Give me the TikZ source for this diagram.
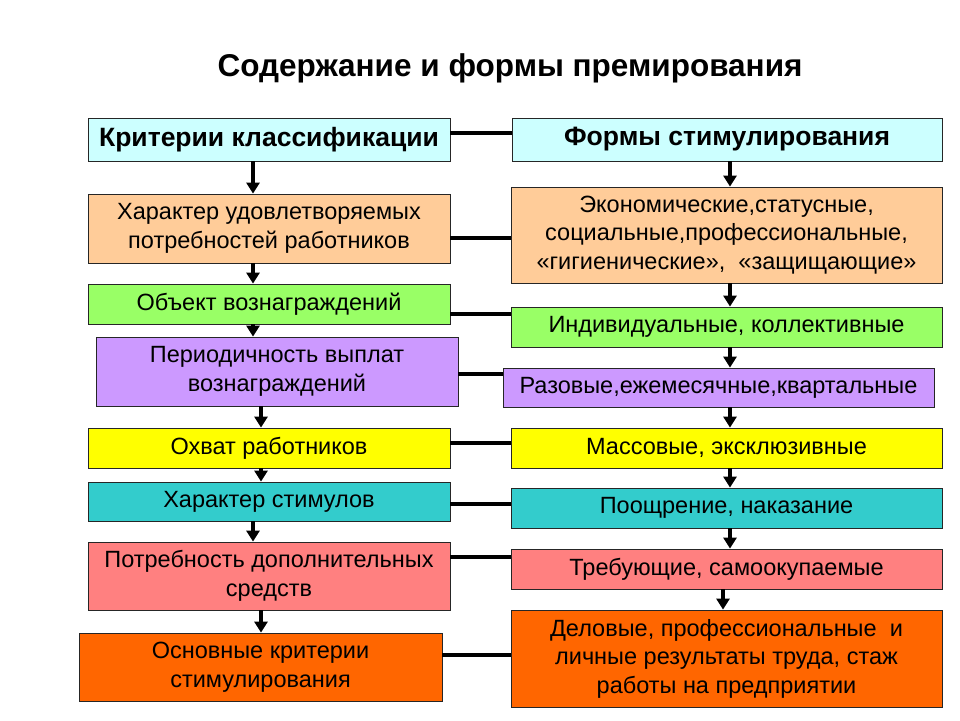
\documentclass[tikz,border=0pt]{standalone}
\usepackage{fontspec}
\setmainfont{Liberation Sans}
\usepackage{xcolor}
\usepackage{tikz}
\usetikzlibrary{arrows.meta}

\definecolor{hdrcyan}{RGB}{204,255,255}
\definecolor{peach}{RGB}{255,204,153}
\definecolor{lgreen}{RGB}{153,255,102}
\definecolor{lilac}{RGB}{204,153,255}
\definecolor{yell}{RGB}{255,255,0}
\definecolor{teal}{RGB}{51,204,204}
\definecolor{pink}{RGB}{255,128,128}
\definecolor{orng}{RGB}{255,102,0}

\tikzset{
	box/.style={draw=black!85, line width=0.8pt, align=center, inner sep=0pt,
		font=\fontsize{23.5}{28.5}\selectfont},
	headbox/.style={box, font=\fontsize{26.5}{28}\selectfont\bfseries},
	link/.style={line width=4pt},
	down/.style={line width=3.5pt, -{Triangle[width=13pt,length=11pt]}},
}

\begin{document}
\begin{tikzpicture}[x=1pt,y=-1pt]
	\useasboundingbox (0,0) rectangle (960,720);
	\node at(510,68)[font=\fontsize{31.5}{34}\selectfont\bfseries](title){Содержание и формы премирования};
	% left column
	\node at(269,139.5)[headbox,fill=hdrcyan,minimum width=362pt,minimum height=43pt](L1){Критерии классификации};
	\node at(269,228.5)[box,fill=peach,minimum width=362pt,minimum height=69pt](L2){Характер удовлетворяемых\\потребностей работников};
	\node at(269,304)[box,fill=lgreen,minimum width=362pt,minimum height=40pt](L3){Объект вознаграждений};
	\node at(277,371.5)[box,fill=lilac,minimum width=362pt,minimum height=69pt](L4){Периодичность выплат\\вознаграждений};
	\node at(269,448)[box,fill=yell,minimum width=362pt,minimum height=40pt](L5){Охват работников};
	\node at(269,501.5)[box,fill=teal,minimum width=362pt,minimum height=39pt](L6){Характер стимулов};
	\node at(269,576)[box,fill=pink,minimum width=362pt,minimum height=68pt](L7){Потребность дополнительных\\средств};
	\node at(260.5,667)[box,fill=orng,minimum width=363pt,minimum height=68pt](L8){Основные критерии\\стимулирования};
	% right column
	\node at(727,139.5)[headbox,fill=hdrcyan,minimum width=430pt,minimum height=43pt](R1){Формы стимулирования};
	\node at(726.5,235)[box,fill=peach,minimum width=431pt,minimum height=96pt](R2){Экономические,статусные,\\социальные,профессиональные,\\«гигиенические»,\ \ «защищающие»};
	\node at(726.5,327)[box,fill=lgreen,minimum width=431pt,minimum height=40pt](R3){Индивидуальные, коллективные};
	\node at(718.5,387.5)[box,fill=lilac,minimum width=431pt,minimum height=39pt](R4){Разовые,ежемесячные,квартальные};
	\node at(726.5,448)[box,fill=yell,minimum width=431pt,minimum height=40pt](R5){Массовые, эксклюзивные};
	\node at(726.5,508)[box,fill=teal,minimum width=431pt,minimum height=40pt](R6){Поощрение, наказание};
	\node at(726.5,569)[box,fill=pink,minimum width=431pt,minimum height=40pt](R7){Требующие, самоокупаемые};
	\node at(726.5,658.5)[box,fill=orng,minimum width=431pt,minimum height=97pt](R8){Деловые, профессиональные\ \ и\\личные результаты труда, стаж\\работы на предприятии};
	% links between columns
	\foreach \i/\dy in {1/6.5,2/-9.5,3/-10,4/-2.5,5/5,6/-2.5,7/19,8/12}{
		\draw[link] ([yshift=\dy pt]L\i.east) coordinate (h\i) -- (h\i -| R\i.west);
	}
	% arrows down
	\foreach \i/\j/\dx in {1/2/-16,2/3/-16,3/4/-16,4/5/-16,5/6/-8,6/7/-16,7/8/-8}{
		\draw[down] ([xshift=\dx pt]L\i.south) coordinate (a\i) -- (a\i |- L\j.north);
	}
	\foreach \i/\j/\dx in {1/2/3,2/3/3.5,3/4/3.5,4/5/11.5,5/6/3.5,6/7/3.5,7/8/-3.5}{
		\draw[down] ([xshift=\dx pt]R\i.south) coordinate (b\i) -- (b\i |- R\j.north);
	}
\end{tikzpicture}
\end{document}
